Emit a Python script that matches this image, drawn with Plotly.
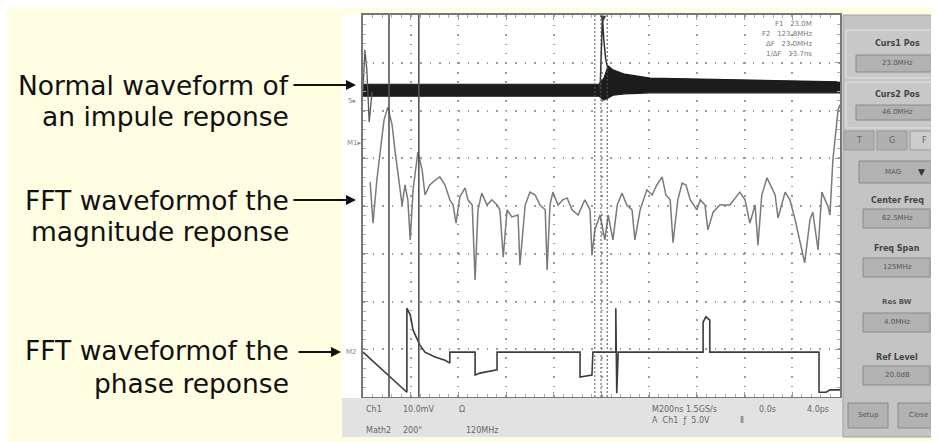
import plotly.graph_objects as go

# the page body keeps an 8px margin, so the figure is 8px smaller and offset
OFF = 8
W, H = 939 - OFF, 442 - OFF

# screen is 10 x 8 divisions, values below are in divisions
impulse_x = [0.0, 4.95, 5.05, 5.14, 5.24, 5.49, 6.02, 7.07, 8.50, 10.0]
impulse_hi = [2.55, 2.55, 2.68, 2.93, 2.85, 2.76, 2.68, 2.66, 2.64, 2.60]
impulse_lo = [2.30, 2.30, 2.22, 2.26, 2.32, 2.35, 2.37, 2.37, 2.37, 2.37]

spike_x = [4.97, 5.02, 5.05, 5.09, 5.14]
spike_y = [2.43, 3.96, 3.46, 3.06, 2.85]
glitch_x = [0.0, 0.04, 0.08, 0.13, 0.19]
glitch_y = [2.43, 3.27, 2.85, 1.76, 2.39]

mag_x = [0.15, 0.21, 0.29, 0.36, 0.44, 0.52, 0.61, 0.67, 0.78, 0.82,
         0.88, 0.94, 0.99, 1.05, 1.15, 1.24, 1.30, 1.40, 1.51, 1.61,
         1.72, 1.82, 1.89, 1.95, 2.03, 2.14, 2.20, 2.29, 2.35, 2.41,
         2.49, 2.60, 2.70, 2.81, 2.87, 2.94, 3.02, 3.12, 3.25, 3.29,
         3.40, 3.50, 3.61, 3.71, 3.82, 3.86, 3.92, 3.98, 4.09, 4.19,
         4.28, 4.38, 4.51, 4.65, 4.76, 4.80, 4.86, 4.97, 5.07, 5.14,
         5.24, 5.33, 5.43, 5.53, 5.64, 5.70, 5.81, 5.95, 6.06, 6.16,
         6.27, 6.35, 6.44, 6.50, 6.60, 6.69, 6.77, 6.86, 7.00, 7.07,
         7.17, 7.23, 7.34, 7.48, 7.69, 7.90, 8.01, 8.11, 8.22, 8.28,
         8.36, 8.47, 8.64, 8.70, 8.85, 8.95, 9.06, 9.16, 9.26, 9.37,
         9.43, 9.54, 9.62, 9.75, 9.79, 9.85, 9.92, 9.96, 10.0]
mag_y = [0.50, -0.36, 0.54, 1.17, 1.80, 2.07, 1.70, 1.17, 0.34, 0.02,
         0.44, 0.13, -0.71, 0.34, 1.13, 0.75, 0.23, 0.44, 0.54, 0.61,
         0.44, 0.13, 0.02, -0.36, 0.19, 0.38, 0.13, 0.02, -1.55, -0.08,
         0.27, 0.02, 0.13, 0.02, -0.08, -1.07, -0.08, -0.23, -0.19, -1.24,
         0.02, 0.29, 0.23, 0.02, -0.08, -1.34, 0.02, 0.29, 0.02, 0.13,
         0.17, -0.08, -0.19, 0.13, -0.08, -1.03, -0.50, -0.19, -0.71, -0.19,
         -0.71, 0.02, 0.27, 0.02, -0.08, -0.71, -0.08, 0.34, 0.23, 0.44,
         0.61, 0.23, 0.13, -0.77, 0.13, 0.48, 0.44, 0.13, -0.08, 0.13,
         0.02, -0.50, -0.13, 0.02, 0.02, 0.29, 0.13, -0.36, 0.02, -0.82,
         0.23, 0.59, 0.23, -0.25, 0.29, 0.13, -0.29, -0.71, -1.19, -0.29,
         -0.13, -0.92, 0.29, -0.02, -0.19, 0.96, 1.70, 2.01, 2.12]

phase_x = [0.0, 0.92, 0.92, 0.99, 1.05, 1.13, 1.19, 1.30, 1.51, 1.72,
           1.82, 1.82, 2.35, 2.35, 2.45, 2.81, 2.81, 4.55, 4.55, 4.80,
           4.82, 5.30, 5.30, 5.32, 5.35, 7.13, 7.13, 7.19, 7.27, 7.27,
           9.56, 9.56, 9.71, 9.79, 10.0]
phase_y = [-3.06, -3.90, -2.14, -2.28, -2.60, -2.76, -2.91, -3.06, -3.16, -3.23,
           -3.29, -3.06, -3.06, -3.54, -3.50, -3.43, -3.06, -3.06, -3.58, -3.54,
           -3.06, -3.06, -2.14, -3.92, -3.06, -3.06, -2.43, -2.32, -2.39, -3.06,
           -3.06, -3.90, -3.90, -3.85, -3.85]

solid_cursors = [0.545, 1.17]
dashed_cursors = [4.86, 4.99, 5.12]

labels = ["Normal waveform of", "an impule reponse",
          "FFT waveformof the", "magnitude reponse",
          "FFT waveformof the", "phase reponse"]
label_rows = [85, 117, 200, 231, 350, 383]
arrow_rows = [85, 200, 352]

readout = ["F1   23.0M", "F2   123.8MHz", "\u0394F   23.0MHz", "1/\u0394F   13.7ns"]


def px(x):
    return (x - OFF) / W


def py(y):
    return 1 - (y - OFF) / H


fig = go.Figure()

fig.add_trace(go.Scatter(x=impulse_x + impulse_x[::-1], y=impulse_hi + impulse_lo[::-1],
                         fill="toself", fillcolor="#1c1c1c", mode="lines",
                         line=dict(color="#1c1c1c", width=1.2)))
fig.add_trace(go.Scatter(x=spike_x, y=spike_y, mode="lines", line=dict(color="#333", width=1.5)))
fig.add_trace(go.Scatter(x=glitch_x, y=glitch_y, mode="lines", line=dict(color="#555", width=1.3)))
fig.add_trace(go.Scatter(x=mag_x, y=mag_y, mode="lines", line=dict(color="#7a7a7a", width=1.5)))
fig.add_trace(go.Scatter(x=phase_x, y=phase_y, mode="lines", line=dict(color="#3c3c3c", width=1.6)))

shapes = [
    dict(type="rect", xref="paper", yref="paper", x0=px(342), x1=px(843), y0=py(398), y1=py(15),
         fillcolor="white", line_width=0, layer="below"),
    dict(type="rect", xref="paper", yref="paper", x0=px(342), x1=px(843), y0=py(437), y1=py(398),
         fillcolor="#e2e2e2", line_width=0),
    dict(type="rect", xref="paper", yref="paper", x0=px(843), x1=1, y0=py(437), y1=py(15),
         fillcolor="#c4c4c4", line=dict(color="#a0a0a0", width=1)),
]
for c in solid_cursors:
    shapes.append(dict(type="line", xref="x", yref="y", x0=c, x1=c, y0=-4, y1=4,
                       line=dict(color="#555", width=1.6)))
for c in dashed_cursors:
    shapes.append(dict(type="line", xref="x", yref="y", x0=c, x1=c, y0=-4, y1=4,
                       line=dict(color="#555", width=1, dash="2px,2px")))

# right side control panel
groups = [(30, 78), (82, 128)]
for g0, g1 in groups:
    shapes.append(dict(type="rect", xref="paper", yref="paper", x0=px(846), x1=px(938),
                       y0=py(g1), y1=py(g0), fillcolor="#c8c8c8", line=dict(color="#e6e6e6", width=1)))
boxes = [(856, 937, 55, 72), (856, 937, 105, 120), (859, 935, 161, 183),
         (863, 930, 209, 228), (863, 930, 258, 277), (863, 930, 313, 332), (863, 930, 366, 385),
         (848, 888, 403, 428), (898, 938, 403, 428)]
for x0, x1, y0, y1 in boxes:
    shapes.append(dict(type="rect", xref="paper", yref="paper", x0=px(x0), x1=px(x1),
                       y0=py(y1), y1=py(y0), fillcolor="#b2b2b2", line=dict(color="#8a8a8a", width=1)))
tabs = [(844, 874, "#b0b0b0"), (877, 907, "#b0b0b0"), (910, 938, "#cdcdcd")]
for x0, x1, col in tabs:
    shapes.append(dict(type="rect", xref="paper", yref="paper", x0=px(x0), x1=px(x1),
                       y0=py(150), y1=py(131), fillcolor=col, line=dict(color="#9a9a9a", width=1)))

ann = []
for txt, r in zip(labels, label_rows):
    ann.append(dict(x=px(291), y=py(r), xref="paper", yref="paper", text=txt, showarrow=False,
                    xanchor="right", yanchor="middle",
                    font=dict(family="DejaVu Sans", size=26.5, color="#111")))
for r, tail, head in zip(arrow_rows, [292, 292, 297], [356, 356, 341]):
    ann.append(dict(x=px(head), y=py(r), xref="paper", yref="paper", text="", showarrow=True,
                    ax=tail - head, ay=0, arrowhead=2, arrowsize=1, arrowwidth=2,
                    arrowcolor="#111", standoff=0, startstandoff=0))


def small(x, y, t, size=8, color="#666", anchor="left", bold=False):
    ann.append(dict(x=px(x), y=py(y), xref="paper", yref="paper", text=("<b>%s</b>" % t) if bold else t,
                    showarrow=False, xanchor=anchor, yanchor="middle",
                    font=dict(family="DejaVu Sans", size=size, color=color)))


small(346, 101, "5\u25b8", 7, "#888")
small(345, 143, "M1\u25b8", 7, "#888")
small(344, 352, "M2", 7, "#888")
small(603, 18, "\u25bc", 8, "#444", "center")
for i, t in enumerate(readout):
    small(814, 24 + i * 10, t, 7, "#777", "right")

small(364, 409, "Ch1", 8)
small(401, 409, "10.0mV", 8)
small(457, 409, "\u03a9", 8)
small(364, 430, "Math2", 8)
small(401, 430, "200\u00b0", 8)
small(464, 430, "120MHz", 8)
small(650, 409, "M200ns 1.5GS/s", 8)
small(757, 409, "0.0s", 8)
small(805, 409, "4.0ps", 8)
small(650, 420, "A  Ch1  \u0192  5.0V", 8)
small(738, 420, "\u2161", 8)

small(897, 43, "Curs1 Pos", 8, "#444", "center", True)
small(897, 63, "23.0MHz", 7, "#555", "center")
small(897, 95, "Curs2 Pos", 8, "#444", "center", True)
small(897, 112, "46.0MHz", 7, "#555", "center")
small(859, 140, "T", 8, "#666", "center")
small(892, 140, "G", 8, "#666", "center")
small(924, 140, "F", 8, "#666", "center")
small(893, 172, "MAG", 7, "#555", "center")
small(921, 172, "\u25bc", 9, "#333", "center")
small(897, 200, "Center Freq", 8, "#444", "center", True)
small(897, 218, "62.5MHz", 7, "#555", "center")
small(897, 248, "Freq Span", 8, "#444", "center", True)
small(897, 267, "125MHz", 7, "#555", "center")
small(897, 302, "Res BW", 7, "#555", "center", True)
small(897, 322, "4.0MHz", 7, "#555", "center")
small(897, 357, "Ref Level", 8, "#444", "center", True)
small(897, 375, "20.0dB", 7, "#555", "center")
small(868, 415, "Setup", 7, "#555", "center")
small(918, 415, "Close", 7, "#555", "center")

axis_common = dict(showticklabels=False, showgrid=True, gridcolor="#9a9a9a", gridwidth=1.5,
                   zeroline=False, showline=True, linecolor="#777", linewidth=1.5, mirror="ticks",
                   ticks="inside", ticklen=5, tickcolor="#999", dtick=1,
                   minor=dict(dtick=0.2, ticks="inside", ticklen=3, tickcolor="#aaa", showgrid=False))

fig.update_layout(
    width=W, height=H, margin=dict(l=0, r=0, t=0, b=0),
    paper_bgcolor="#fffde2", plot_bgcolor="white", showlegend=False,
    xaxis=dict(domain=[px(363), px(840)], range=[0, 10], griddash="1.5px,8px", **axis_common),
    yaxis=dict(domain=[py(397), py(15)], range=[-4, 4], griddash="1.5px,8px", **axis_common),
    shapes=shapes, annotations=ann,
)

fig.write_html("out.html")
